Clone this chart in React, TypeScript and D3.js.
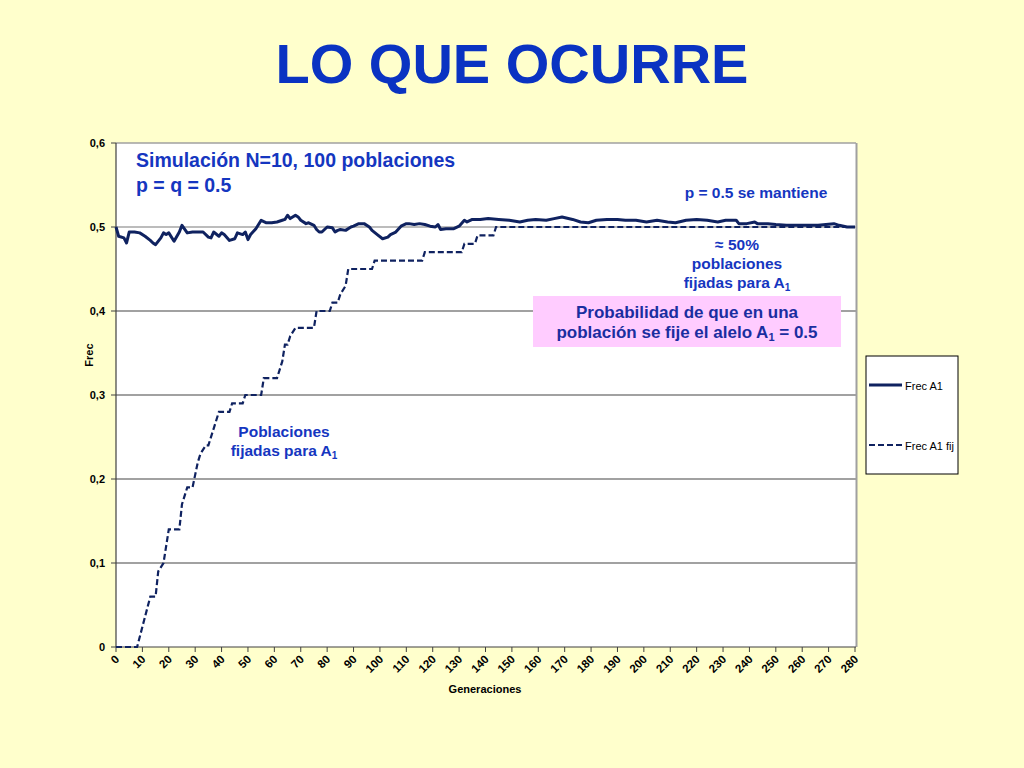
import React from "react";
import * as d3 from "d3";

const titleText = "LO QUE OCURRE";
const xTicks = d3.range(0, 281, 10);
const yTicks = [0, 0.1, 0.2, 0.3, 0.4, 0.5, 0.6];
const yTickLabels = ["0", "0,1", "0,2", "0,3", "0,4", "0,5", "0,6"];

// Frec A1 (mean allele frequency)
const freqGen = [0,1,3,4,5,7,9,11,13,14,15,17,18,19,20,22,24,25,27,29,31,33,35,36,37,39,40,41,43,45,46,48,49,50,51,53,55,57,59,61,63,64,65,66,68,69,70,72,73,75,76,77,78,80,82,83,84,85,87,89,90,92,94,96,97,99,101,103,104,106,108,110,111,113,115,117,119,121,122,123,125,128,130,132,133,135,138,141,145,149,153,156,159,163,166,169,173,176,179,182,186,190,193,197,201,205,209,212,216,220,224,228,231,235,236,239,242,243,247,250,254,258,262,266,269,272,274,277,280];
const freqVal = [0.500,0.489,0.487,0.481,0.494,0.494,0.493,0.489,0.484,0.481,0.479,0.487,0.493,0.491,0.493,0.483,0.494,0.502,0.493,0.494,0.494,0.494,0.488,0.487,0.494,0.489,0.493,0.491,0.484,0.486,0.493,0.491,0.494,0.485,0.491,0.498,0.508,0.505,0.505,0.506,0.508,0.509,0.514,0.510,0.514,0.512,0.508,0.504,0.505,0.502,0.497,0.494,0.494,0.500,0.499,0.494,0.496,0.497,0.496,0.500,0.501,0.504,0.504,0.500,0.496,0.491,0.486,0.488,0.491,0.494,0.501,0.504,0.504,0.503,0.504,0.503,0.501,0.500,0.503,0.497,0.498,0.498,0.501,0.508,0.506,0.509,0.509,0.510,0.509,0.508,0.506,0.508,0.509,0.508,0.510,0.512,0.509,0.506,0.505,0.508,0.509,0.509,0.508,0.508,0.506,0.508,0.506,0.505,0.508,0.509,0.508,0.506,0.508,0.508,0.504,0.504,0.506,0.504,0.504,0.503,0.502,0.502,0.502,0.502,0.503,0.504,0.502,0.500,0.500];

// Frec A1 fij (fraction of populations fixed for A1), breakpoints
const fixGen = [0,8,13,15,16,18,20,24,25,27,29,31,32,34,35,39,43,44,48,49,55,56,61,63,64,65,66,68,75,76,81,82,84,85,87,88,97,98,116,117,131,132,136,137,143,144,280];
const fixVal = [0,0,0.06,0.06,0.09,0.10,0.14,0.14,0.17,0.19,0.19,0.22,0.23,0.24,0.24,0.28,0.28,0.29,0.29,0.30,0.30,0.32,0.32,0.34,0.36,0.36,0.37,0.38,0.38,0.40,0.40,0.41,0.41,0.42,0.43,0.45,0.45,0.46,0.46,0.47,0.47,0.48,0.48,0.49,0.49,0.50,0.50];

const legendLabels = ["Frec A1", "Frec A1 fij"];

const BLUE = "#1536c0";
const BOXBLUE = "#1a2ea0";
const LINE = "#0f2260";
const FONT = "Liberation Sans, Arial, sans-serif";

export default function App() {
  const x = d3.scaleLinear().domain([0, 280]).range([116, 855]);
  const y = d3.scaleLinear().domain([0, 0.6]).range([647, 143]);
  const line = d3.line<[number, number]>().x((d) => x(d[0])).y((d) => y(d[1]));
  const freqPts = freqGen.map((g, i) => [g, freqVal[i]] as [number, number]);
  const fixPts = fixGen.map((g, i) => [g, fixVal[i]] as [number, number]);
  const [x0, x1] = x.range();
  const [yb, yt] = y.range();

  return (
    <div style={{ position: "fixed", left: 0, top: 0, width: 1024, height: 768 }}>
      <svg width={1024} height={768} style={{ display: "block", fontFamily: FONT }}>
        <rect x={0} y={0} width={1024} height={768} fill="#ffffcc" />
        <text x={512} y={83} textAnchor="middle" fontSize={56} fontWeight="bold" fill="#0a33c2">
          {titleText}
        </text>

        {/* plot area */}
        <rect x={x0} y={yt} width={x1 - x0 + 1} height={yb - yt} fill="#ffffff" />
        {yTicks.slice(1, 6).map((t) => (
          <line key={t} x1={x0} x2={x1 + 1} y1={y(t)} y2={y(t)} stroke={t === 0.5 ? "#7a7a7a" : "#444"} strokeWidth={1.2} />
        ))}
        <line x1={x0} x2={x1 + 1} y1={yt} y2={yt} stroke="#a0a0a0" strokeWidth={1.5} />
        <line x1={x1 + 1.5} x2={x1 + 1.5} y1={yt} y2={yb} stroke="#a0a0a0" strokeWidth={2} />

        {/* axes */}
        <line x1={x0} x2={x0} y1={yt} y2={yb} stroke="#404040" strokeWidth={1.2} />
        <line x1={x0} x2={x1 + 1} y1={yb} y2={yb} stroke="#404040" strokeWidth={1.2} />
        {yTicks.map((t, i) => (
          <g key={t}>
            <line x1={x0 - 5} x2={x0} y1={y(t)} y2={y(t)} stroke="#404040" strokeWidth={1} />
            <text x={x0 - 11} y={y(t) + 4} textAnchor="end" fontSize={11} fontWeight="bold" fill="#000">
              {yTickLabels[i]}
            </text>
          </g>
        ))}
        {xTicks.map((t) => (
          <g key={t}>
            <line x1={x(t)} x2={x(t)} y1={yb} y2={yb + 5} stroke="#404040" strokeWidth={1} />
            <text
              transform={`translate(${x(t) + 4},${yb + 13}) rotate(-45)`}
              textAnchor="end"
              fontSize={11.5}
              fontWeight="bold"
              fill="#000"
            >
              {t}
            </text>
          </g>
        ))}
        <text transform={`translate(93,355) rotate(-90)`} textAnchor="middle" fontSize={11} fontWeight="bold">
          Frec
        </text>
        <text x={485} y={693} textAnchor="middle" fontSize={11} fontWeight="bold">
          Generaciones
        </text>

        {/* series */}
        <path d={line(fixPts) ?? ""} fill="none" stroke={LINE} strokeWidth={2.2} strokeDasharray="6,3" />
        <path d={line(freqPts) ?? ""} fill="none" stroke={LINE} strokeWidth={3} strokeLinejoin="round" />

        {/* annotations */}
        <text x={136} y={167} fontSize={19.5} fontWeight="bold" fill={BLUE}>
          Simulación N=10, 100 poblaciones
        </text>
        <text x={136} y={192} fontSize={19.5} fontWeight="bold" fill={BLUE}>
          p = q = 0.5
        </text>
        <text x={756} y={198} textAnchor="middle" fontSize={15.5} fontWeight="bold" fill={BLUE}>
          p = 0.5 se mantiene
        </text>
        <g fontSize={15.5} fontWeight="bold" fill={BLUE} textAnchor="middle">
          <text x={737} y={250}>≈ 50%</text>
          <text x={737} y={269}>poblaciones</text>
          <text x={737} y={288}>
            fijadas para A<tspan fontSize={10} dy={3}>1</tspan>
          </text>
        </g>
        <rect x={533} y={296} width={308} height={51} fill="#ffccff" />
        <g fontSize={17} fontWeight="bold" fill={BOXBLUE} textAnchor="middle">
          <text x={687} y={318}>Probabilidad de que en una</text>
          <text x={687} y={338}>
            población se fije el alelo A<tspan fontSize={11} dy={3}>1</tspan>
            <tspan dy={-3}> = 0.5</tspan>
          </text>
        </g>
        <g fontSize={15.5} fontWeight="bold" fill={BLUE} textAnchor="middle">
          <text x={284} y={437}>Poblaciones</text>
          <text x={284} y={456}>
            fijadas para A<tspan fontSize={10} dy={3}>1</tspan>
          </text>
        </g>

        {/* legend */}
        <rect x={866} y={356} width={92} height={118} fill="#ffffff" stroke="#000" strokeWidth={1} />
        <line x1={869} x2={902} y1={385} y2={385} stroke={LINE} strokeWidth={3} />
        <text x={905} y={389.5} fontSize={11} fill="#000">{legendLabels[0]}</text>
        <line x1={869} x2={902} y1={445} y2={445} stroke={LINE} strokeWidth={2} strokeDasharray="6,3" />
        <text x={905} y={449.5} fontSize={11} fill="#000">{legendLabels[1]}</text>
      </svg>
    </div>
  );
}
